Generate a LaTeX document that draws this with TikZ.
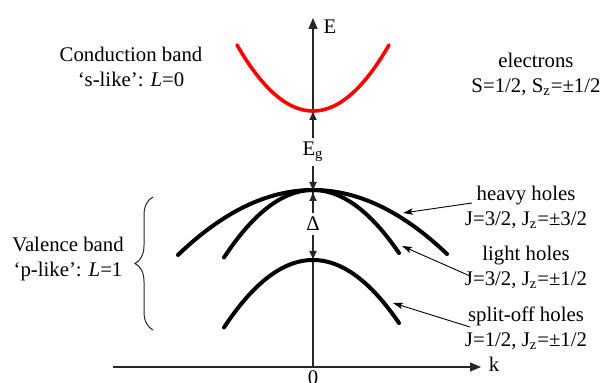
\documentclass[tikz,border=0pt]{standalone}
\usepackage{fontspec}
\setmainfont{Liberation Serif}
\usetikzlibrary{arrows.meta,decorations.pathreplacing}
\begin{document}
\begin{tikzpicture}[x=0.5pt,y=-0.5pt,
  lbl/.style={font=\fontsize{10.4}{12.5}\selectfont, align=center, inner sep=0pt},
  gaplbl/.style={lbl, fill=white, inner sep=2pt},
  axis/.style={black!85, line width=0.6pt, -{Triangle[length=5.5pt,width=4.5pt]}},
  gaparrow/.style={black!85, line width=0.6pt, -{Triangle[length=4pt,width=3.6pt]}},
  band/.style={line width=2pt, line cap=round},
  cband/.style={red, line width=1.8pt, line cap=round},
  pointer/.style={line width=0.45pt, -{Stealth[length=5pt,width=3.2pt,inset=1.2pt]}}]
\useasboundingbox (0,0) rectangle (600,383);
% axes
\coordinate (korig) at (113,367);
\coordinate (kend) at (481,367);
\coordinate (eorig) at (313,367);
\coordinate (eend) at (313,18);
\draw[axis] (korig) -- (kend);
\draw[axis] (eorig) -- (eend);
\node[lbl] (klbl) at (494,364) {k};
\node[lbl] (elbl) at (330,27) {E};
\node[lbl, anchor=north] (zero) at (313,370) {0};
% conduction band
\draw[cband] plot[domain=-76:76, samples=60] ({313+\x}, {111-66*(\x/76)^2});
% valence bands
\draw[band] plot[domain=-135:134, samples=80] ({313+\x}, {190+65*(\x/135)^2});
\draw[band] plot[domain=-89:86, samples=60] ({313+\x}, {190+66*(\x/88)^2});
\draw[band] plot[domain=-89:86, samples=60] ({313+\x}, {260+66*(\x/88)^2});
% gap labels and arrows
\node[gaplbl] (eg) at (313,152) {E\textsubscript{g}};
\node[gaplbl] (delta) at (313,224) {Δ};
\coordinate (cbmin) at (313,112);
\coordinate (vbmax) at (313,190);
\coordinate (vbmaxb) at (313,193);
\coordinate (somax) at (313,259);
\coordinate (egt) at (313,132);
\coordinate (egb) at (313,167);
\coordinate (dt) at (313,211);
\coordinate (db) at (313,238);
\draw[gaparrow] (egt) -- (cbmin);
\draw[gaparrow] (egb) -- (vbmax);
\draw[gaparrow] (dt) -- (vbmaxb);
\draw[gaparrow] (db) -- (somax);
% texts
\node[lbl] (cb) at (131,67) {Conduction band\\`s-like': \textit{L}=0};
\node[lbl] (el) at (536,74) {electrons\\S=1/2, S\textsubscript{z}=±1/2};
\node[lbl] (vb) at (68,259) {Valence band\\`p-like': \textit{L}=1};
\node[lbl] (hh) at (526,207) {heavy holes\\J=3/2, J\textsubscript{z}=±3/2};
\node[lbl] (lh) at (526,267) {light holes\\J=3/2, J\textsubscript{z}=±1/2};
\node[lbl] (so) at (526,328) {split-off holes\\J=1/2, J\textsubscript{z}=±1/2};
% brace
\coordinate (brb) at (153,330);
\coordinate (brt) at (153,197);
\draw[black!85, line width=0.5pt, decorate, decoration={brace, amplitude=9pt}] (brb) -- (brt);
% pointers
\coordinate (hhtail) at (472,203);
\coordinate (hhtip) at (403,213);
\coordinate (lhtail) at (470,276);
\coordinate (lhtip) at (402,246);
\coordinate (sotail) at (470,327);
\coordinate (sotip) at (393,303);
\draw[pointer] (hhtail) -- (hhtip);
\draw[pointer] (lhtail) -- (lhtip);
\draw[pointer] (sotail) -- (sotip);
\end{tikzpicture}
\end{document}
